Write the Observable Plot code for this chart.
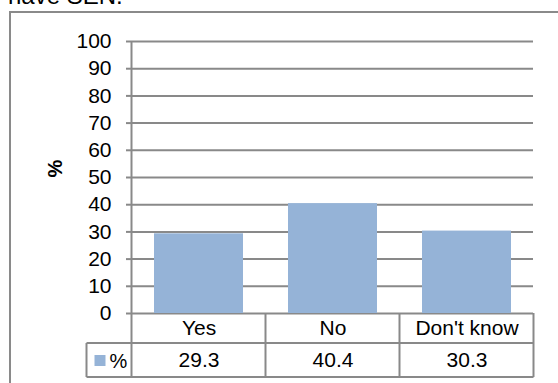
<!DOCTYPE html>
<html><head><meta charset="utf-8">
<script src="https://cdn.jsdelivr.net/npm/d3@7"></script>
<script src="https://cdn.jsdelivr.net/npm/@observablehq/plot@0.6"></script>
<style>
body{margin:0;background:#fff;}
#wrap{position:relative;width:558px;height:383px;overflow:hidden;font-family:"Liberation Sans",Arial,sans-serif;}
#intro{position:absolute;left:8px;top:-18px;font-size:24px;line-height:28px;color:#000;white-space:nowrap;}
#frame{position:absolute;left:9px;top:11px;width:560px;height:380px;border-top:2px solid #8a8a8a;border-left:2px solid #8a8a8a;}
#chart{position:absolute;left:0;top:0;}
</style></head><body>
<div id="wrap"><div id="intro">have SEN.</div><div id="frame"></div><div id="chart"></div></div>
<script>
const categories = ["Yes", "No", "Don't know"];
const values = [29.3, 40.4, 30.3];
const yTicks = [0, 10, 20, 30, 40, 50, 60, 70, 80, 90, 100];
const seriesName = "%";

const data = categories.map((c, i) => ({category: c, value: values[i]}));
const gridColor = "#898989";
const barColor = "#95b3d7";
const font = "'Liberation Sans', Arial, sans-serif";

const plot = Plot.plot({
  width: 558, height: 383,
  marginLeft: 131, marginRight: 25, marginTop: 41, marginBottom: 70,
  style: {fontFamily: font, fontSize: "20px", color: "#000", background: "transparent", overflow: "visible"},
  x: {domain: categories, paddingInner: 0.336, paddingOuter: 0.168, axis: null},
  y: {domain: [0, 100], axis: null},
  marks: [
    Plot.gridY(yTicks, {stroke: gridColor, strokeOpacity: 1, strokeWidth: 2}),
    Plot.axisY(yTicks, {tickSize: 5, tickPadding: 15, stroke: gridColor, strokeWidth: 2, strokeOpacity: 1, label: null, fontSize: 21, fill: "#000"}),
    Plot.barY(data, {x: "category", y: "value", fill: barColor}),
    Plot.text(data, {x: "category", text: d => d.category, frameAnchor: "bottom", dy: 21, fontSize: 21, fill: "#000"}),
    Plot.text(data, {x: "category", text: d => d.value.toFixed(1), frameAnchor: "bottom", dy: 53, fontSize: 21, fill: "#000"}),
    Plot.text([seriesName], {text: d => d, frameAnchor: "left", dx: -76, rotate: -90, fontSize: 20, fontWeight: "bold", fill: "#000"})
  ]
});
document.getElementById("chart").appendChild(plot);

// data table grid + legend, positioned through the plot's own scales
const svg = d3.select(plot);
const xs = plot.scale("x"), ys = plot.scale("y");
const y0 = ys.apply(0), yTop = ys.apply(100);
const step = xs.step, bw = xs.bandwidth;
const bounds = categories.map(c => xs.apply(c) - (step - bw) / 2);
bounds.push(bounds[bounds.length - 1] + step);
const row1 = y0 + 30, row2 = y0 + 64;
const legendLeft = bounds[0] - 45;
const g = svg.append("g").attr("stroke", gridColor).attr("stroke-width", 2).attr("fill", "none");
g.append("line").attr("x1", bounds[0]).attr("x2", bounds[0]).attr("y1", yTop).attr("y2", row2);
bounds.slice(1).forEach(b => g.append("line").attr("x1", b).attr("x2", b).attr("y1", y0).attr("y2", row2));
g.append("line").attr("x1", legendLeft).attr("x2", legendLeft).attr("y1", row1).attr("y2", row2);
g.append("line").attr("x1", legendLeft).attr("x2", bounds[bounds.length - 1]).attr("y1", row1).attr("y2", row1);
g.append("line").attr("x1", legendLeft).attr("x2", bounds[bounds.length - 1]).attr("y1", row2).attr("y2", row2);
const ly = (row1 + row2) / 2;
svg.append("rect").attr("x", legendLeft + 8).attr("y", ly - 5).attr("width", 11).attr("height", 11).attr("fill", barColor);
svg.append("text").attr("x", legendLeft + 23).attr("y", ly + 1).attr("dy", "0.35em").attr("text-anchor", "start")
  .attr("font-family", font).attr("font-size", 20).attr("fill", "#000").text(seriesName);
</script>
</body></html>
